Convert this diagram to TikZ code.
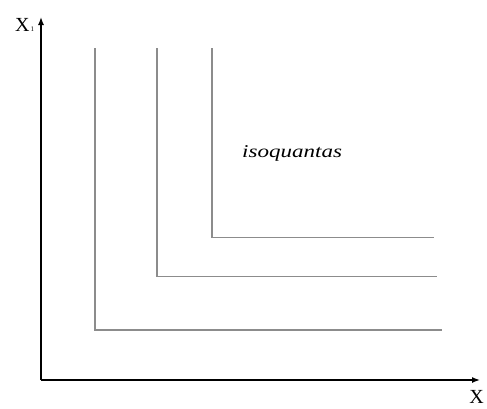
\documentclass[tikz,border=0pt]{standalone}
\usepackage{fontspec}
\setmainfont{Liberation Serif}
\usepackage{graphicx}
\usetikzlibrary{arrows.meta}

\begin{document}
\begin{tikzpicture}[x=1pt, y=-1pt, >={Latex[length=8pt,width=6pt]},
    axis/.style={line width=1.4pt, black},
    isoq/.style={line width=1.3pt, black!45}]
    % Rahmen
    \clip (0,0) rectangle (487,408);

    % Akser
    \coordinate (O) at (41,380);
    \coordinate (ytop) at (41,17);
    \coordinate (xend) at (480,380);
    \draw[->, axis] (O) -- (ytop);
    \draw[->, axis] (O) -- (xend);
    \node[anchor=base west, inner sep=0pt] (ylab) at (15,31)
      {\fontsize{20}{20}\selectfont X\hspace{1pt}{\fontsize{7}{7}\selectfont 1}};
    \node[anchor=base east, inner sep=0pt] (xlab) at (484,403)
      {\fontsize{20}{20}\selectfont X};

    % Isokvanter (L-form, perfekte komplementer)
    \coordinate (q1) at (95,330);
    \coordinate (q2) at (157,276.5);
    \coordinate (q3) at (212,237.5);
    \draw[isoq] (95,48) -- (q1) -- (442,330);
    \draw[isoq] (157,48) -- (q2) -- (437,276.5);
    \draw[isoq] (212,48) -- (q3) -- (434,237.5);

    \node[anchor=base west, inner sep=0pt] (isolab) at (242,157)
      {\scalebox{1.28}[1]{\fontsize{18}{18}\selectfont\itshape isoquantas}};
\end{tikzpicture}
\end{document}
